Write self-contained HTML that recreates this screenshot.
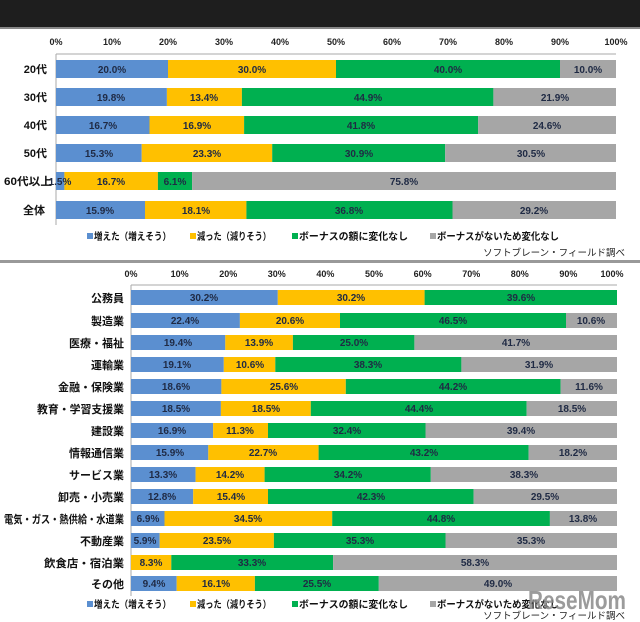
<!DOCTYPE html>
<html><head><meta charset="utf-8"><style>
body{margin:0;background:#fff;}
svg{display:block;font-family:"Liberation Sans","Noto Sans CJK JP",sans-serif;}
.t{font-size:9px;font-weight:bold;fill:#222;text-anchor:middle}
.v{font-size:10px;font-weight:bold;fill:#1f2a44;text-anchor:middle}
.c{font-size:11px;font-weight:bold;fill:#111;text-anchor:end}
.l{font-size:10px;font-weight:bold;fill:#111}
.s{font-size:9.5px;fill:#222;text-anchor:end}
</style></head><body>
<svg width="640" height="622" viewBox="0 0 640 622">
<rect x="0" y="0" width="640" height="27" fill="#1e1e1e"/>
<rect x="0" y="27" width="640" height="2" fill="#888"/>
<g class="t">
<text x="56" y="45">0%</text><text x="112" y="45">10%</text><text x="168" y="45">20%</text><text x="224" y="45">30%</text><text x="280" y="45">40%</text><text x="336" y="45">50%</text><text x="392" y="45">60%</text><text x="448" y="45">70%</text><text x="504" y="45">80%</text><text x="560" y="45">90%</text><text x="616" y="45">100%</text>
</g>
<line x1="56" y1="54" x2="616" y2="54" stroke="#aaa"/>
<line x1="56" y1="54" x2="56" y2="225" stroke="#aaa"/>
<g>
<rect x="56" y="60" width="112" height="18" fill="#5b8fd0"/><rect x="168" y="60" width="168" height="18" fill="#ffc000"/><rect x="336" y="60" width="224" height="18" fill="#00b050"/><rect x="560" y="60" width="56" height="18" fill="#a6a6a6"/>
<rect x="56" y="88" width="110.9" height="18" fill="#5b8fd0"/><rect x="166.9" y="88" width="75" height="18" fill="#ffc000"/><rect x="241.9" y="88" width="251.5" height="18" fill="#00b050"/><rect x="493.4" y="88" width="122.6" height="18" fill="#a6a6a6"/>
<rect x="56" y="116" width="93.5" height="18" fill="#5b8fd0"/><rect x="149.5" y="116" width="94.6" height="18" fill="#ffc000"/><rect x="244.1" y="116" width="234.1" height="18" fill="#00b050"/><rect x="478.2" y="116" width="137.8" height="18" fill="#a6a6a6"/>
<rect x="56" y="144" width="85.7" height="18" fill="#5b8fd0"/><rect x="141.7" y="144" width="130.5" height="18" fill="#ffc000"/><rect x="272.2" y="144" width="173" height="18" fill="#00b050"/><rect x="445.2" y="144" width="170.8" height="18" fill="#a6a6a6"/>
<rect x="56" y="172" width="8.4" height="18" fill="#5b8fd0"/><rect x="64.4" y="172" width="93.5" height="18" fill="#ffc000"/><rect x="157.9" y="172" width="34.2" height="18" fill="#00b050"/><rect x="192.1" y="172" width="423.9" height="18" fill="#a6a6a6"/>
<rect x="56" y="201" width="89" height="18" fill="#5b8fd0"/><rect x="145" y="201" width="101.4" height="18" fill="#ffc000"/><rect x="246.4" y="201" width="206.1" height="18" fill="#00b050"/><rect x="452.5" y="201" width="163.5" height="18" fill="#a6a6a6"/>
</g>
<g class="v">
<text x="112" y="73">20.0%</text><text x="252" y="73">30.0%</text><text x="448" y="73">40.0%</text><text x="588" y="73">10.0%</text>
<text x="111" y="101">19.8%</text><text x="204" y="101">13.4%</text><text x="368" y="101">44.9%</text><text x="555" y="101">21.9%</text>
<text x="103" y="129">16.7%</text><text x="197" y="129">16.9%</text><text x="361" y="129">41.8%</text><text x="547" y="129">24.6%</text>
<text x="99" y="157">15.3%</text><text x="207" y="157">23.3%</text><text x="359" y="157">30.9%</text><text x="531" y="157">30.5%</text>
<text x="60" y="185">1.5%</text><text x="111" y="185">16.7%</text><text x="175" y="185">6.1%</text><text x="404" y="185">75.8%</text>
<text x="100" y="214">15.9%</text><text x="196" y="214">18.1%</text><text x="349" y="214">36.8%</text><text x="534" y="214">29.2%</text>
</g>
<g class="c">
<text x="47" y="73">20代</text><text x="47" y="101">30代</text><text x="47" y="129">40代</text><text x="47" y="157">50代</text><text x="52" y="185" textLength="48" lengthAdjust="spacingAndGlyphs">60代以上</text><text x="45" y="214">全体</text>
</g>
<g class="l">
<rect x="87" y="233" width="6" height="6" fill="#5b8fd0"/><text x="94" y="240" textLength="77" lengthAdjust="spacingAndGlyphs">増えた（増えそう）</text>
<rect x="190" y="233" width="6" height="6" fill="#ffc000"/><text x="197" y="240" textLength="74" lengthAdjust="spacingAndGlyphs">減った（減りそう）</text>
<rect x="292" y="233" width="6" height="6" fill="#00b050"/><text x="299" y="240" textLength="109" lengthAdjust="spacingAndGlyphs">ボーナスの額に変化なし</text>
<rect x="430" y="233" width="6" height="6" fill="#a6a6a6"/><text x="437" y="240" textLength="122" lengthAdjust="spacingAndGlyphs">ボーナスがないため変化なし</text>
</g>
<text class="s" x="625" y="256">ソフトブレーン・フィールド調べ</text>
<rect x="0" y="260" width="640" height="3" fill="#999"/>
<g class="t">
<text x="131" y="277">0%</text><text x="179.6" y="277">10%</text><text x="228.2" y="277">20%</text><text x="276.8" y="277">30%</text><text x="325.4" y="277">40%</text><text x="374" y="277">50%</text><text x="422.6" y="277">60%</text><text x="471.2" y="277">70%</text><text x="519.8" y="277">80%</text><text x="568.4" y="277">90%</text><text x="612" y="277">100%</text>
</g>
<line x1="131" y1="285" x2="617" y2="285" stroke="#aaa"/>
<line x1="131" y1="285" x2="131" y2="596" stroke="#aaa"/>
<g>
<rect x="131" y="290" width="146.8" height="15" fill="#5b8fd0"/><rect x="277.8" y="290" width="146.8" height="15" fill="#ffc000"/><rect x="424.6" y="290" width="192.4" height="15" fill="#00b050"/>
<rect x="131" y="313" width="108.9" height="15" fill="#5b8fd0"/><rect x="239.9" y="313" width="100.1" height="15" fill="#ffc000"/><rect x="340" y="313" width="226" height="15" fill="#00b050"/><rect x="566" y="313" width="51" height="15" fill="#a6a6a6"/>
<rect x="131" y="335" width="94.3" height="15" fill="#5b8fd0"/><rect x="225.3" y="335" width="67.6" height="15" fill="#ffc000"/><rect x="292.9" y="335" width="121.5" height="15" fill="#00b050"/><rect x="414.4" y="335" width="202.6" height="15" fill="#a6a6a6"/>
<rect x="131" y="357" width="92.8" height="15" fill="#5b8fd0"/><rect x="223.8" y="357" width="51.5" height="15" fill="#ffc000"/><rect x="275.3" y="357" width="186.1" height="15" fill="#00b050"/><rect x="461.4" y="357" width="155.6" height="15" fill="#a6a6a6"/>
<rect x="131" y="379" width="90.4" height="15" fill="#5b8fd0"/><rect x="221.4" y="379" width="124.4" height="15" fill="#ffc000"/><rect x="345.8" y="379" width="214.8" height="15" fill="#00b050"/><rect x="560.6" y="379" width="56.4" height="15" fill="#a6a6a6"/>
<rect x="131" y="401" width="89.9" height="15" fill="#5b8fd0"/><rect x="220.9" y="401" width="89.9" height="15" fill="#ffc000"/><rect x="310.8" y="401" width="215.8" height="15" fill="#00b050"/><rect x="526.6" y="401" width="90.4" height="15" fill="#a6a6a6"/>
<rect x="131" y="423" width="82.1" height="15" fill="#5b8fd0"/><rect x="213.1" y="423" width="54.9" height="15" fill="#ffc000"/><rect x="268" y="423" width="157.5" height="15" fill="#00b050"/><rect x="425.5" y="423" width="191.5" height="15" fill="#a6a6a6"/>
<rect x="131" y="445" width="77.3" height="15" fill="#5b8fd0"/><rect x="208.3" y="445" width="110.3" height="15" fill="#ffc000"/><rect x="318.6" y="445" width="210" height="15" fill="#00b050"/><rect x="528.6" y="445" width="88.4" height="15" fill="#a6a6a6"/>
<rect x="131" y="467" width="64.6" height="15" fill="#5b8fd0"/><rect x="195.6" y="467" width="69" height="15" fill="#ffc000"/><rect x="264.6" y="467" width="166.2" height="15" fill="#00b050"/><rect x="430.8" y="467" width="186.2" height="15" fill="#a6a6a6"/>
<rect x="131" y="489" width="62.2" height="15" fill="#5b8fd0"/><rect x="193.2" y="489" width="74.8" height="15" fill="#ffc000"/><rect x="268" y="489" width="205.6" height="15" fill="#00b050"/><rect x="473.6" y="489" width="143.4" height="15" fill="#a6a6a6"/>
<rect x="131" y="511" width="33.5" height="15" fill="#5b8fd0"/><rect x="164.5" y="511" width="167.7" height="15" fill="#ffc000"/><rect x="332.2" y="511" width="217.7" height="15" fill="#00b050"/><rect x="549.9" y="511" width="67.1" height="15" fill="#a6a6a6"/>
<rect x="131" y="533" width="28.7" height="15" fill="#5b8fd0"/><rect x="159.7" y="533" width="114.2" height="15" fill="#ffc000"/><rect x="273.9" y="533" width="171.6" height="15" fill="#00b050"/><rect x="445.5" y="533" width="171.5" height="15" fill="#a6a6a6"/>
<rect x="131" y="555" width="40.3" height="15" fill="#ffc000"/><rect x="171.3" y="555" width="161.8" height="15" fill="#00b050"/><rect x="333.1" y="555" width="283.9" height="15" fill="#a6a6a6"/>
<rect x="131" y="576" width="45.7" height="15" fill="#5b8fd0"/><rect x="176.7" y="576" width="78.2" height="15" fill="#ffc000"/><rect x="254.9" y="576" width="123.9" height="15" fill="#00b050"/><rect x="378.8" y="576" width="238.2" height="15" fill="#a6a6a6"/>
</g>
<g class="v">
<text x="204" y="301">30.2%</text><text x="351" y="301">30.2%</text><text x="521" y="301">39.6%</text>
<text x="185" y="324">22.4%</text><text x="290" y="324">20.6%</text><text x="453" y="324">46.5%</text><text x="591" y="324">10.6%</text>
<text x="178" y="346">19.4%</text><text x="259" y="346">13.9%</text><text x="354" y="346">25.0%</text><text x="516" y="346">41.7%</text>
<text x="177" y="368">19.1%</text><text x="250" y="368">10.6%</text><text x="368" y="368">38.3%</text><text x="539" y="368">31.9%</text>
<text x="176" y="390">18.6%</text><text x="284" y="390">25.6%</text><text x="453" y="390">44.2%</text><text x="589" y="390">11.6%</text>
<text x="176" y="412">18.5%</text><text x="266" y="412">18.5%</text><text x="419" y="412">44.4%</text><text x="572" y="412">18.5%</text>
<text x="172" y="434">16.9%</text><text x="240" y="434">11.3%</text><text x="347" y="434">32.4%</text><text x="521" y="434">39.4%</text>
<text x="170" y="456">15.9%</text><text x="263" y="456">22.7%</text><text x="424" y="456">43.2%</text><text x="573" y="456">18.2%</text>
<text x="163" y="478">13.3%</text><text x="230" y="478">14.2%</text><text x="348" y="478">34.2%</text><text x="524" y="478">38.3%</text>
<text x="162" y="500">12.8%</text><text x="231" y="500">15.4%</text><text x="371" y="500">42.3%</text><text x="545" y="500">29.5%</text>
<text x="148" y="522">6.9%</text><text x="248" y="522">34.5%</text><text x="441" y="522">44.8%</text><text x="583" y="522">13.8%</text>
<text x="145" y="544">5.9%</text><text x="217" y="544">23.5%</text><text x="360" y="544">35.3%</text><text x="531" y="544">35.3%</text>
<text x="151" y="566">8.3%</text><text x="252" y="566">33.3%</text><text x="475" y="566">58.3%</text>
<text x="154" y="587">9.4%</text><text x="216" y="587">16.1%</text><text x="317" y="587">25.5%</text><text x="498" y="587">49.0%</text>
</g>
<g class="c">
<text x="124" y="302">公務員</text><text x="124" y="325">製造業</text><text x="124" y="347">医療・福祉</text><text x="124" y="369">運輸業</text><text x="124" y="391">金融・保険業</text><text x="124" y="413" textLength="87" lengthAdjust="spacingAndGlyphs">教育・学習支援業</text><text x="124" y="435">建設業</text><text x="124" y="457">情報通信業</text><text x="124" y="479">サービス業</text><text x="124" y="501">卸売・小売業</text><text x="124" y="523" textLength="120" lengthAdjust="spacingAndGlyphs">電気・ガス・熱供給・水道業</text><text x="124" y="545">不動産業</text><text x="124" y="567" textLength="80" lengthAdjust="spacingAndGlyphs">飲食店・宿泊業</text><text x="124" y="588">その他</text>
</g>
<g class="l">
<rect x="87" y="601" width="6" height="6" fill="#5b8fd0"/><text x="94" y="608" textLength="77" lengthAdjust="spacingAndGlyphs">増えた（増えそう）</text>
<rect x="190" y="601" width="6" height="6" fill="#ffc000"/><text x="197" y="608" textLength="74" lengthAdjust="spacingAndGlyphs">減った（減りそう）</text>
<rect x="292" y="601" width="6" height="6" fill="#00b050"/><text x="299" y="608" textLength="109" lengthAdjust="spacingAndGlyphs">ボーナスの額に変化なし</text>
<rect x="430" y="601" width="6" height="6" fill="#a6a6a6"/><text x="437" y="608" textLength="122" lengthAdjust="spacingAndGlyphs">ボーナスがないため変化なし</text>
</g>
<text x="626" y="609" style="font-size:26px;font-weight:bold;fill:#8a8a8a;text-anchor:end;opacity:0.85" textLength="98" lengthAdjust="spacingAndGlyphs">ReseMom</text>
<text class="s" x="625" y="619">ソフトブレーン・フィールド調べ</text>
</svg>
</body></html>
